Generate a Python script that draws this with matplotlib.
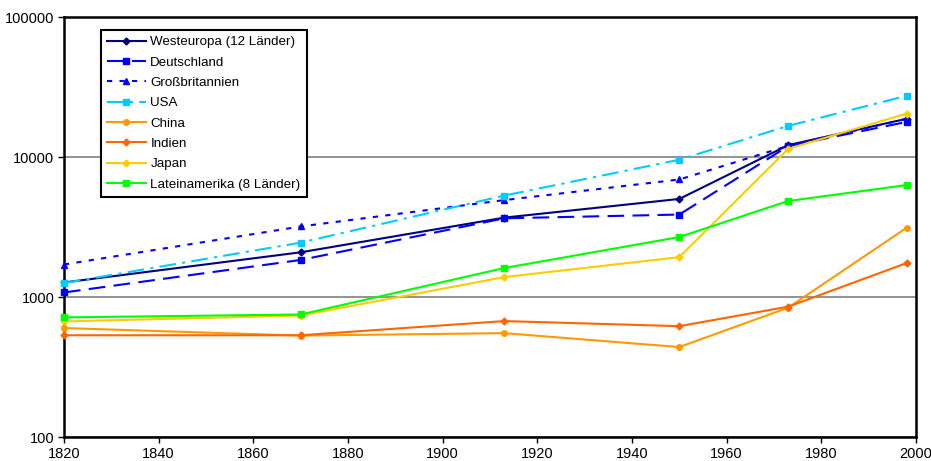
import matplotlib
matplotlib.use('Agg')
import matplotlib.pyplot as plt
from matplotlib.ticker import FixedLocator, NullLocator

plt.rcParams['font.family'] = ['Liberation Sans', 'DejaVu Sans']

years = [1820, 1870, 1913, 1950, 1973, 1998]
westeuropa = [1270, 2086, 3688, 5018, 12156, 18742]
deutschland = [1077, 1839, 3648, 3881, 11966, 17799]
grossbritannien = [1706, 3190, 4921, 6907, 12022, 18714]
usa = [1257, 2445, 5301, 9561, 16689, 27331]
china = [600, 530, 552, 439, 839, 3117]
indien = [533, 533, 673, 619, 853, 1746]
japan = [669, 737, 1387, 1926, 11439, 20413]
lateinamerika = [715, 750, 1610, 2680, 4850, 6300]

fig = plt.figure(figsize=(9.31, 4.61), dpi=100)
ax = fig.add_axes([64 / 931, 1 - 437 / 461, 852 / 931, 420 / 461])

kw = dict(lw=1.5, clip_on=False, zorder=3)
ax.plot(years, westeuropa, color='#000080', marker='D', ms=3.5, label='Westeuropa (12 Länder)', **kw)
ax.plot(years, deutschland, color='#0000FF', marker='s', ms=4.5, dashes=(8, 4), label='Deutschland', **kw)
ax.plot(years, grossbritannien, color='#0000FF', marker='^', ms=5, dashes=(2.5, 3.5), label='Großbritannien', **kw)
ax.plot(years, usa, color='#00CCFF', marker='s', ms=4.5, dashes=(8, 3, 1.5, 3), label='USA', **kw)
ax.plot(years, china, color='#FF9900', marker='o', ms=4, label='China', **kw)
ax.plot(years, indien, color='#FF6600', marker='D', ms=3.5, label='Indien', **kw)
ax.plot(years, japan, color='#FFCC00', marker='D', ms=3.5, label='Japan', **kw)
ax.plot(years, lateinamerika, color='#00FF00', marker='s', ms=4.5, label='Lateinamerika (8 Länder)', **kw)

ax.set_yscale('log')
ax.set_xlim(1820, 2000)
ax.set_ylim(100, 100000)
ax.yaxis.set_major_locator(FixedLocator([100, 1000, 10000, 100000]))
ax.yaxis.set_minor_locator(NullLocator())
ax.set_yticklabels(['100', '1000', '10000', '100000'])
ax.set_xticks(range(1820, 2001, 20))
ax.grid(axis='y', color='#808080', lw=1.2)
ax.tick_params(direction='out', length=4, width=1, labelsize=10.5, colors='black', pad=3)
for s in ax.spines.values():
    s.set_linewidth(1.8)
    s.set_color('black')

leg = ax.legend(loc='upper left', bbox_to_anchor=(37 / 852, 1 - 13 / 420), fontsize=9.6,
                frameon=True, fancybox=False, edgecolor='black', framealpha=1,
                handlelength=2.9, labelspacing=0.6, borderpad=0.45, handletextpad=0.35,
                borderaxespad=0)
leg.get_frame().set_linewidth(1.5)
leg.set_zorder(5)

fig.savefig('out.png', dpi=100)
